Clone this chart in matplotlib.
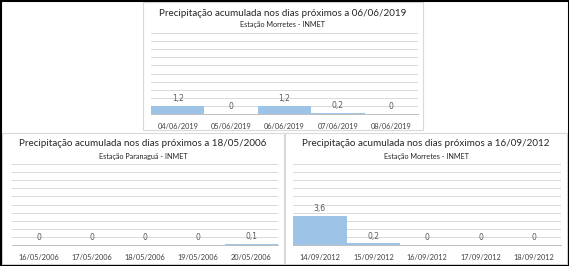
import numpy as np
import matplotlib as mpl
import matplotlib.pyplot as plt
from matplotlib.patches import Rectangle

mpl.rc('font', family=['Lato', 'DejaVu Sans'])

W, H = 569, 266

# data
dates_top = ['04/06/2019', '05/06/2019', '06/06/2019', '07/06/2019', '08/06/2019']
vals_top = [1.2, 0, 1.2, 0.2, 0]
dates_left = ['16/05/2006', '17/05/2006', '18/05/2006', '19/05/2006', '20/05/2006']
vals_left = [0, 0, 0, 0, 0.1]
dates_right = ['14/09/2012', '15/09/2012', '16/09/2012', '17/09/2012', '18/09/2012']
vals_right = [3.6, 0.2, 0, 0, 0]

titles = ['Precipitação acumulada nos dias próximos a 06/06/2019',
          'Precipitação acumulada nos dias próximos a 18/05/2006',
          'Precipitação acumulada nos dias próximos a 16/09/2012']
subtitles = ['Estação Morretes - INMET',
             'Estação Paranaguá - INMET',
             'Estação Morretes - INMET']

bar_color = '#9dc3e6'
grid_color = '#d9d9d9'
text_color = '#404040'


def px_rect(fig, x0, y0, x1, y1, **kw):
    """rectangle in pixel coords (origin top-left)"""
    r = Rectangle((x0 / W, 1 - y1 / H), (x1 - x0) / W, (y1 - y0) / H,
                  transform=fig.transFigure, **kw)
    fig.patches.append(r)


def add_panel(fig, frame, plot, title, subtitle, dates, vals, ymax, step):
    fx0, fy0, fx1, fy1 = frame
    px_rect(fig, fx0, fy0, fx1, fy1, fill=False,
            edgecolor=grid_color, lw=0.8, zorder=-1)
    x0, y0, x1, y1 = plot
    ax = fig.add_axes((x0 / W, 1 - y1 / H, (x1 - x0) / W, (y1 - y0) / H))
    pos = np.arange(len(dates))
    ax.bar(pos, vals, width=1.0, color=bar_color, zorder=2)
    ax.set_xlim(-0.5, len(dates) - 0.5)
    ax.set_ylim(0, ymax)
    ax.set_yticks(np.arange(0, ymax + step / 2, step))
    ax.yaxis.grid(True, color=grid_color, lw=0.7, zorder=0)
    ax.tick_params(axis='y', left=False, labelleft=False)
    ax.tick_params(axis='x', bottom=False, labelsize=5.3, colors=text_color, pad=3)
    ax.set_xticks(pos)
    ax.set_xticklabels(dates)
    for s in ['top', 'right', 'left']:
        ax.spines[s].set_visible(False)
    ax.spines['bottom'].set_color('#bfbfbf')
    ax.spines['bottom'].set_linewidth(0.7)
    ax.set_facecolor('none')
    for p, v in zip(pos, vals):
        lbl = ('%g' % v).replace('.', ',')
        ax.annotate(lbl, (p, v), xytext=(0, 2), textcoords='offset points',
                    ha='center', va='bottom', fontsize=5.5, color='#595959',
                    family=['DejaVu Sans'])
    cx = (fx0 + fx1) / 2 / W
    fig.text(cx, 1 - (fy0 + 11) / H, title, ha='center', va='center',
             fontsize=7.1, color='#262626')
    fig.text(cx, 1 - (fy0 + 23) / H, subtitle, ha='center', va='center',
             fontsize=5.2, color='#262626')
    return ax


fig = plt.figure(figsize=(W / 100, H / 100), dpi=100)

add_panel(fig, (143, 2, 423, 130), (151, 33, 418, 114),
          titles[0], subtitles[0], dates_top, vals_top, 12, 1.2)
add_panel(fig, (2, 133, 284, 264), (12, 164, 278, 245),
          titles[1], subtitles[1], dates_left, vals_left, 10, 1)
add_panel(fig, (285, 133, 567, 264), (293, 164, 561, 245),
          titles[2], subtitles[2], dates_right, vals_right, 10, 1)

# outer black border
px_rect(fig, 0.5, 0.5, W - 0.5, H - 0.5, fill=False, edgecolor='black', lw=1.5)

fig.savefig('out.png', dpi=100)
